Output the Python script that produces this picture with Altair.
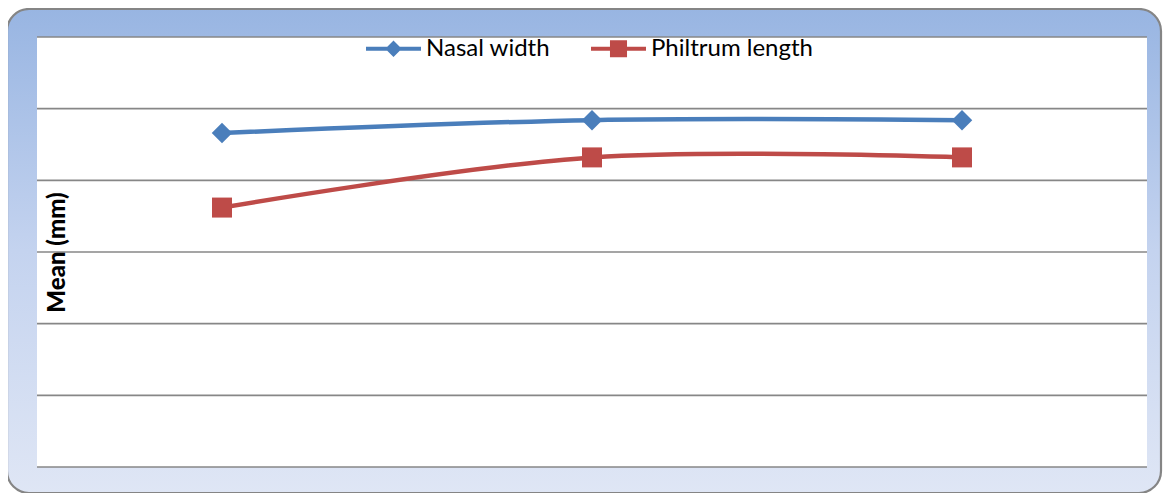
import altair as alt
import pandas as pd

# ---- data ----
groups = ["Group 1", "Group 2", "Group 3"]
series_names = ["Nasal width", "Philtrum length"]
nasal_width = [23.3, 24.2, 24.2]
philtrum_length = [18.1, 21.6, 21.6]
grid_values = [0, 5, 10, 15, 20, 25, 30]

colors = ["#4A7EBB", "#BE4B48"]
legend_shapes = [
    "M-1,-0.075H1V0.075H-1Z M0,-0.3L0.3,0L0,0.3L-0.3,0Z",
    "M-1,-0.075H1V0.075H-1Z M-0.31,-0.31H0.31V0.31H-0.31Z",
]

rows = []
for g, v in zip(groups, nasal_width):
    rows.append({"group": g, "series": series_names[0], "value": v})
for g, v in zip(groups, philtrum_length):
    rows.append({"group": g, "series": series_names[1], "value": v})
df = pd.DataFrame(rows)
grid_df = pd.DataFrame({"value": grid_values})
frame_df = pd.DataFrame({"k": [0]})

W, H = 1110, 430

x_enc = alt.X("group:N", sort=groups, scale=alt.Scale(type="point", padding=0.5), axis=None)
y_scale = alt.Scale(domain=[0, 30], nice=False, zero=True)
y_axis = alt.Axis(title="Mean (mm)", grid=False, labels=False, ticks=False, domain=False,
                  titleFont="Lato", titleFontSize=24, titleFontWeight=900,
                  titleColor="#000000", titleAngle=270, titleBaseline="middle",
                  titleAlign="center", titleX=20, titleY=215, zindex=2)
y_enc = alt.Y("value:Q", scale=y_scale, axis=y_axis, title="Mean (mm)")

legend = alt.Legend(title=None, orient="none", direction="horizontal",
                    legendX=329, legendY=-16, padding=0,
                    symbolOpacity=1, symbolSize=3025, symbolStrokeWidth=0,
                    labelFont="Lato", labelFontSize=24, labelColor="#000000",
                    labelOffset=5, columnPadding=40, labelLimit=400)
color_enc = alt.Color("series:N", sort=series_names,
                      scale=alt.Scale(domain=series_names, range=colors), legend=legend)

# outer rounded gradient frame
frame = alt.Chart(frame_df).mark_rect(
    cornerRadius=22,
    stroke="#858585",
    strokeWidth=2.2,
    fill=alt.Gradient(gradient="linear", x1=0, x2=0, y1=0, y2=1,
                      stops=[alt.GradientStop(color="#98B5E2", offset=0),
                             alt.GradientStop(color="#C4D3EF", offset=0.5),
                             alt.GradientStop(color="#DFE6F5", offset=1)]),
).encode(x=alt.value(-30), x2=alt.value(W + 14), y=alt.value(-28), y2=alt.value(H + 26))

plot_bg = alt.Chart(frame_df).mark_rect(fill="white").encode(
    x=alt.value(0), x2=alt.value(W), y=alt.value(0), y2=alt.value(H))

grid = alt.Chart(grid_df).mark_rule(color="#878787", strokeWidth=1.6).encode(y=y_enc)

lines = alt.Chart(df).mark_line(strokeWidth=4.5, interpolate="catmull-rom").encode(
    x=x_enc, y=y_enc, color=color_enc, detail="series:N")

diamonds = alt.Chart(df).transform_filter(
    alt.datum.series == series_names[0]
).mark_point(filled=True, opacity=1, size=420, shape="diamond").encode(
    x=x_enc, y=y_enc, color=color_enc)

squares = alt.Chart(df).transform_filter(
    alt.datum.series == series_names[1]
).mark_point(filled=True, opacity=1, size=400, shape="square").encode(
    x=x_enc, y=y_enc, color=color_enc)

legend_layer = alt.Chart(df).mark_point(filled=True, opacity=0, size=3025).encode(
    x=x_enc, y=y_enc, color=color_enc,
    shape=alt.Shape("series:N", sort=series_names,
                    scale=alt.Scale(domain=series_names, range=legend_shapes), legend=legend))

chart = alt.layer(frame, plot_bg, grid, lines, diamonds, squares, legend_layer).properties(
    width=W, height=H,
    autosize=alt.AutoSizeParams(type="none"),
    padding={"left": 29, "top": 29, "right": 16, "bottom": 26},
    background="white",
).configure_view(stroke=None)

chart.save("out.html", embed_options={"renderer": "svg", "actions": False})
